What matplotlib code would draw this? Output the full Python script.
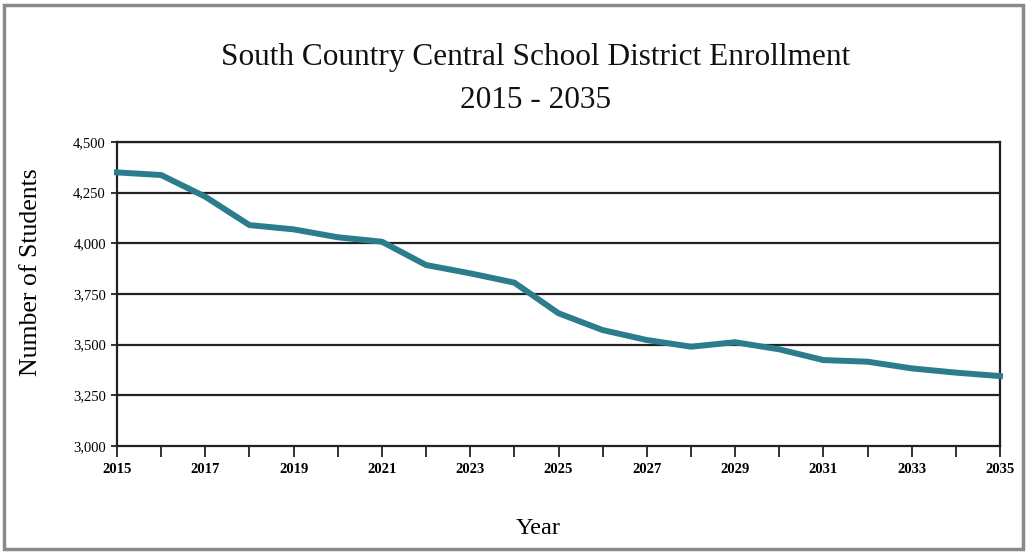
import matplotlib
matplotlib.use("Agg")
import matplotlib.pyplot as plt
from matplotlib.patches import Rectangle

years = list(range(2015, 2036))
enrollment = [4350, 4337, 4230, 4090, 4069, 4030, 4008, 3893, 3852, 3806,
              3655, 3572, 3523, 3490, 3512, 3477, 3424, 3416, 3383, 3362, 3345]
yticks = [3000, 3250, 3500, 3750, 4000, 4250, 4500]

plt.rcParams['font.family'] = ['Liberation Serif', 'DejaVu Serif']

fig = plt.figure(figsize=(10.28, 5.53), dpi=100)
ax = fig.add_axes([117/1028, 1-446/553, (1000-117)/1028, (446-142)/553])

ax.plot(years, enrollment, color='#2b7d8e', linewidth=4.3, solid_joinstyle='round', zorder=3, clip_on=False)

ax.set_xlim(2015, 2035)
ax.set_ylim(3000, 4500)
ax.set_yticks(yticks)
ax.set_yticklabels([f"{v:,}" for v in yticks], fontsize=10.5)
ax.set_xticks(years)
ax.set_xticklabels([str(y) if (y - 2015) % 2 == 0 else '' for y in years], fontsize=10.5)
for lbl in ax.get_xticklabels():
    lbl.set_fontweight('bold')
ax.tick_params(axis='x', direction='out', length=8, width=1.3, pad=4, color='#222222')
ax.tick_params(axis='y', direction='out', length=4, width=1.3, pad=4, color='#222222')

for v in yticks[1:]:
    ax.axhline(v, color='#222222', linewidth=1.6, zorder=1)
for s in ax.spines.values():
    s.set_color('#222222')
    s.set_linewidth(1.6)

ax.set_ylabel('Number of Students', fontsize=18.5)
ax.yaxis.set_label_coords(-0.085, 0.572)
fig.text(538/1028, 1-528/553, 'Year', fontsize=17.5, ha='center', va='center')

fig.text(536/1028, 1-57/553, 'South Country Central School District Enrollment',
         fontsize=22.5, ha='center', va='center', color='#111111')
fig.text(536/1028, 1-100/553, '2015 - 2035', fontsize=22.5, ha='center', va='center', color='#111111')

fig.patches.append(Rectangle((4/1028, 4/553), 1019/1028, 544/553, transform=fig.transFigure,
                             fill=False, edgecolor='#8a8a8a', linewidth=2.5))

fig.savefig('out.png', dpi=100)
